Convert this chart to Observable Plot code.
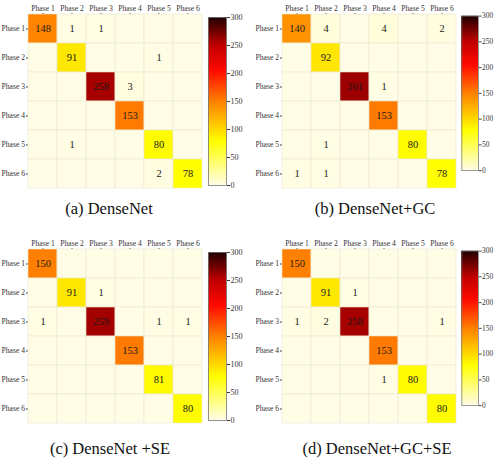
<!DOCTYPE html>
<html>
<head>
<meta charset="utf-8">
<script src="https://cdn.jsdelivr.net/npm/d3@7"></script>
<script src="https://cdn.jsdelivr.net/npm/@observablehq/plot@0.6"></script>
<style>
  html, body { margin: 0; padding: 0; background: #fff; }
  #root { position: relative; width: 500px; height: 458px; overflow: hidden; font-family: "Liberation Serif", "DejaVu Serif", serif; }
  .abs { position: absolute; }
  .cap { position: absolute; width: 220px; text-align: center; font-size: 16.5px; color: #111; line-height: 1; font-family: "Liberation Serif", "DejaVu Serif", serif; }
</style>
</head>
<body>
<div id="root"></div>
<script>
// ---- Data ----
const phases = ["Phase 1", "Phase 2", "Phase 3", "Phase 4", "Phase 5", "Phase 6"];
const colorTicks = [0, 50, 100, 150, 200, 250, 300];

const matDenseNet = [
  [148, 1, 1, 0, 0, 0],
  [0, 91, 0, 0, 1, 0],
  [0, 0, 258, 3, 0, 0],
  [0, 0, 0, 153, 0, 0],
  [0, 1, 0, 0, 80, 0],
  [0, 0, 0, 0, 2, 78]
];
const matDenseNetGC = [
  [140, 4, 0, 4, 0, 2],
  [0, 92, 0, 0, 0, 0],
  [0, 0, 261, 1, 0, 0],
  [0, 0, 0, 153, 0, 0],
  [0, 1, 0, 0, 80, 0],
  [1, 1, 0, 0, 0, 78]
];
const matDenseNetSE = [
  [150, 0, 0, 0, 0, 0],
  [0, 91, 1, 0, 0, 0],
  [1, 0, 259, 0, 1, 1],
  [0, 0, 0, 153, 0, 0],
  [0, 0, 0, 0, 81, 0],
  [0, 0, 0, 0, 0, 80]
];
const matDenseNetGCSE = [
  [150, 0, 0, 0, 0, 0],
  [0, 91, 1, 0, 0, 0],
  [1, 2, 258, 0, 0, 1],
  [0, 0, 0, 153, 0, 0],
  [0, 0, 0, 1, 80, 0],
  [0, 0, 0, 0, 0, 80]
];
const captions = ["(a) DenseNet", "(b) DenseNet+GC", "(c) DenseNet +SE", "(d) DenseNet+GC+SE"];

// ---- Colour map (reversed "hot") ----
const hot = d3.scaleLinear()
  .domain([0, 78, 150, 205, 250, 300])
  .range(["#fffde6", "#ffff00", "#ff8000", "#ff0a00", "#c00000", "#200000"])
  .clamp(true);
const colorOpts = { type: "linear", domain: [0, 300], interpolate: (t) => hot(t * 300) };

const fontFam = "'Liberation Serif', 'DejaVu Serif', serif";
const root = document.getElementById("root");

function place(node, left, top) {
  const d = document.createElement("div");
  d.className = "abs";
  d.style.left = left + "px";
  d.style.top = top + "px";
  d.appendChild(node);
  root.appendChild(d);
}

function heatmap(mat, mLeft) {
  const data = mat.flatMap((row, i) => row.map((v, j) => ({ pred: phases[j], act: phases[i], v })));
  return Plot.plot({
    width: mLeft + 174 + 6,
    height: 14 + 174 + 6,
    marginLeft: mLeft, marginRight: 6, marginTop: 14, marginBottom: 6,
    style: { fontFamily: fontFam, fontSize: "7.6px", color: "#333", background: "transparent" },
    x: { domain: phases, axis: "top", padding: 0, label: null, tickSize: 2, tickPadding: 2 },
    y: { domain: phases, padding: 0, label: null, tickSize: 2, tickPadding: 1.5 },
    color: colorOpts,
    marks: [
      Plot.cell(data, { x: "pred", y: "act", fill: "v", stroke: "#e9e6cf", strokeWidth: 0.6 }),
      Plot.text(data.filter(d => d.v > 0), { x: "pred", y: "act", text: d => String(d.v), fill: "#1a1a1a", fontSize: 10.5, fontFamily: fontFam })
    ]
  });
}

function colorbar(mTop) {
  const steps = d3.range(0, 300, 1);
  return Plot.plot({
    width: 8 + 18 + 24,
    height: mTop + 168 + 8,
    marginLeft: 8, marginRight: 24, marginTop: mTop, marginBottom: 8,
    style: { fontFamily: fontFam, fontSize: "8px", color: "#333", background: "transparent" },
    x: { domain: [0, 1], axis: null },
    y: { domain: [0, 300], axis: "right", ticks: colorTicks, tickSize: 3, tickPadding: 1, label: null },
    color: colorOpts,
    marks: [
      Plot.rect(steps, { x1: 0, x2: 1, y1: d => d, y2: d => d + 1, fill: d => d + 0.5, shapeRendering: "crispEdges", stroke: d => d + 0.5, strokeWidth: 0.3 }),
      Plot.frame({ stroke: "#777", strokeWidth: 0.8 })
    ]
  });
}

function caption(text, cx, top) {
  const d = document.createElement("div");
  d.className = "cap";
  d.textContent = text;
  d.style.left = (cx - 110) + "px";
  d.style.top = top + "px";
  root.appendChild(d);
}

// Panel (a)
place(heatmap(matDenseNet, 28), 0, 0);
place(colorbar(17), 200, 0);
caption(captions[0], 109, 201);
// Panel (b)
place(heatmap(matDenseNetGC, 32), 250, 0);
place(colorbar(17), 454, 0);
caption(captions[1], 375, 201);
// Panel (c)
place(heatmap(matDenseNetSE, 28), 0, 235);
place(colorbar(17), 200, 235);
caption(captions[2], 110, 441);
// Panel (d)
place(heatmap(matDenseNetGCSE, 32), 250, 235);
place(colorbar(17), 454, 235);
caption(captions[3], 377, 441);
</script>
</body>
</html>
